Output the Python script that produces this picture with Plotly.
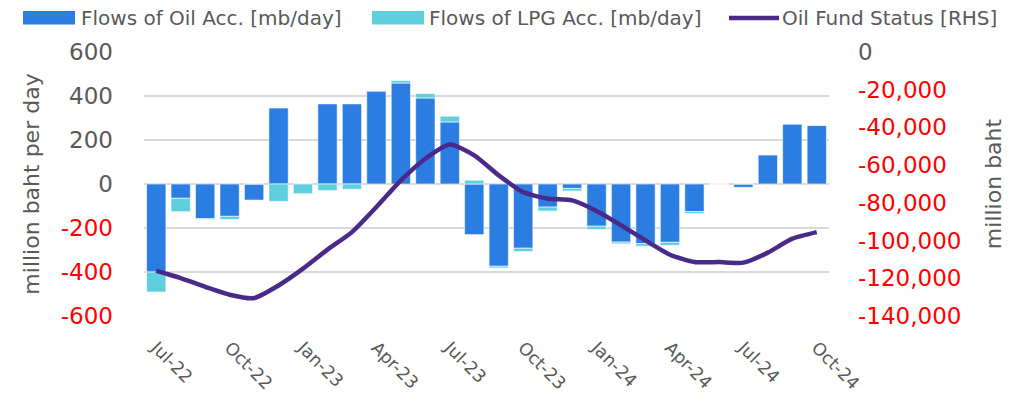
import plotly.graph_objects as go

months = ["Jul-22","Aug-22","Sep-22","Oct-22","Nov-22","Dec-22",
          "Jan-23","Feb-23","Mar-23","Apr-23","May-23","Jun-23",
          "Jul-23","Aug-23","Sep-23","Oct-23","Nov-23","Dec-23",
          "Jan-24","Feb-24","Mar-24","Apr-24","May-24","Jun-24",
          "Jul-24","Aug-24","Sep-24","Oct-24"]
oil_flow = [-400, -65, -158, -147, -73, 345,
            0, 364, 364, 423, 459, 391,
            282, -230, -374, -292, -105, -20,
            -192, -264, -271, -265, -126, 0,
            -15, 133, 273, 267]
lpg_flow = [-91, -61, -3, -14, 0, -79,
            -44, -30, -24, 0, 11, 20,
            26, 17, -8, -15, -18, -12,
            -15, -8, -12, -14, -9, 0,
            0, 0, 0, 0]
fund_status = [-116000, -119900, -124500, -128700, -130500, -123800,
               -114900, -104800, -95500, -82200, -68100, -56600,
               -49100, -54800, -65400, -74300, -77800, -78700,
               -84300, -91900, -99900, -107500, -111400, -111400,
               -111700, -106400, -99000, -95500]

left_ticks = [-600, -400, -200, 0, 200, 400, 600]
right_ticks = [-140000, -120000, -100000, -80000, -60000, -40000, -20000, 0]
xtick_labels = months[::3]

OIL_C = "#2B7DE1"
LPG_C = "#5FCFDE"
LINE_C = "#4A2A88"
GRAY = "#595959"
RED = "#FF0000"
FONT = "DejaVu Sans"

def colored(v, txt):
    if v < 0:
        return '<span style="color:%s">%s</span>' % (RED, txt)
    return txt

fig = go.Figure()
fig.add_trace(go.Bar(x=months, y=oil_flow, name="Flows of Oil Acc. [mb/day]",
                     marker=dict(color=OIL_C, line=dict(color="rgba(255,255,255,0.6)", width=1))))
fig.add_trace(go.Bar(x=months, y=lpg_flow, name="Flows of LPG Acc. [mb/day]",
                     marker=dict(color=LPG_C, line=dict(color="rgba(255,255,255,0.6)", width=1))))
fig.add_trace(go.Scatter(x=months, y=fund_status, name="Oil Fund Status [RHS]", yaxis="y2",
                         mode="lines", line=dict(color=LINE_C, width=4.5, shape="spline", smoothing=0.6)))

W, H = 1030, 404
L, T = 144, 52
R = W - 829
B = H - 316
pw, ph = W - L - R, H - T - B

def px(x):
    return (x - L) / pw

def py(y):
    return (H - B - y) / ph

shapes = []
annotations = []
legend_items = [
    ("rect", OIL_C, 23, 75, "Flows of Oil Acc. [mb/day]", 81),
    ("rect", LPG_C, 372, 424, "Flows of LPG Acc. [mb/day]", 429),
    ("line", LINE_C, 729, 779, "Oil Fund Status [RHS]", 782),
]
for kind, col, x0, x1, label, tx in legend_items:
    if kind == "rect":
        shapes.append(dict(type="rect", xref="paper", yref="paper", x0=px(x0), x1=px(x1),
                           y0=py(24.5), y1=py(11), fillcolor=col, line=dict(width=0)))
    else:
        shapes.append(dict(type="line", xref="paper", yref="paper", x0=px(x0), x1=px(x1),
                           y0=py(18), y1=py(18), line=dict(color=col, width=4.5)))
    annotations.append(dict(text=label, xref="paper", yref="paper", x=px(tx - 2), y=py(17.5),
                            xanchor="left", yanchor="middle", showarrow=False,
                            font=dict(family=FONT, size=20, color=GRAY)))

fig.update_layout(
    width=W, height=H,
    margin=dict(l=L, r=R, t=T, b=B, autoexpand=False),
    paper_bgcolor="white", plot_bgcolor="white",
    barmode="relative", bargap=0.21,
    showlegend=False, hovermode=False,
    font=dict(family=FONT, color=GRAY, size=22),
    shapes=shapes, annotations=annotations,
    xaxis=dict(type="category", range=[-0.5, len(months) - 0.5],
               tickmode="array", tickvals=xtick_labels, ticktext=xtick_labels,
               tickangle=45, tickfont=dict(size=17.5, color=GRAY),
               showgrid=False, showline=False, ticks="", ticklabelstandoff=17),
    yaxis=dict(range=[-600, 600], tickmode="array", tickvals=left_ticks,
               ticktext=[colored(v, str(v)) for v in left_ticks],
               showgrid=True, gridcolor="#D9D9D9", gridwidth=1.5,
               zeroline=True, zerolinecolor="#D9D9D9", zerolinewidth=1.5,
               tickfont=dict(size=23, color=GRAY), ticks="", ticklabelstandoff=30,
               title=dict(text="million baht per day", font=dict(size=22, color=GRAY), standoff=15)),
    yaxis2=dict(range=[-140000, 0], overlaying="y", side="right", tickmode="array",
                tickvals=right_ticks, ticktext=[colored(v, "{:,}".format(v)) for v in right_ticks],
                showgrid=False, zeroline=False, tickfont=dict(size=23, color=GRAY), ticks="",
                ticklabelstandoff=28,
                title=dict(text="million baht", font=dict(size=22, color=GRAY), standoff=25)),
)

fig.write_html("out.html", config={"displayModeBar": False},
               post_script="document.body.style.margin='0';")
